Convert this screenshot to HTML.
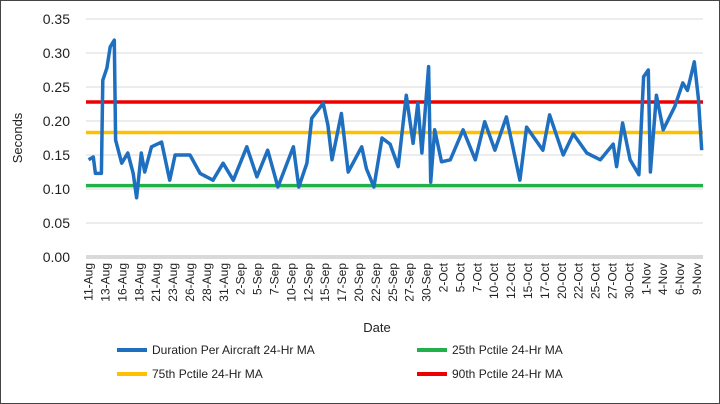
<!DOCTYPE html>
<html><head><meta charset="utf-8"><style>
body{margin:0;background:#fff}
svg{display:block;font-family:"Liberation Sans",sans-serif}
</style></head><body>
<svg id="chart" width="720" height="404" viewBox="0 0 720 404">
<rect x="0.5" y="0.5" width="719" height="403" fill="#fff" stroke="#444"/>
<g id="grid"></g><g id="yt"></g><g id="xt"></g><g id="ref"></g><g id="series"></g>
<text x="377" y="332" font-size="13" fill="#222" text-anchor="middle">Date</text>
<text transform="translate(22,138) rotate(-90)" font-size="13" fill="#222" text-anchor="middle">Seconds</text>
<g font-size="12" fill="#222">
<g><line x1="117" y1="350" x2="147" y2="350" stroke="#1f6fc0" stroke-width="4"/><text x="152" y="354">Duration Per Aircraft 24-Hr MA</text></g>
<g><line x1="417" y1="350" x2="447" y2="350" stroke="#22b04a" stroke-width="4"/><text x="452" y="354">25th Pctile 24-Hr MA</text></g>
<g><line x1="117" y1="374" x2="147" y2="374" stroke="#ffc000" stroke-width="4"/><text x="152" y="378">75th Pctile 24-Hr MA</text></g>
<g><line x1="417" y1="374" x2="447" y2="374" stroke="#ee0000" stroke-width="4"/><text x="452" y="378">90th Pctile 24-Hr MA</text></g>
</g>
</svg>
<script>
const xLabels=["11-Aug","13-Aug","16-Aug","18-Aug","21-Aug","23-Aug","26-Aug","28-Aug","31-Aug","2-Sep","5-Sep","7-Sep","10-Sep","12-Sep","15-Sep","17-Sep","20-Sep","22-Sep","25-Sep","27-Sep","30-Sep","2-Oct","5-Oct","7-Oct","10-Oct","12-Oct","15-Oct","17-Oct","20-Oct","22-Oct","25-Oct","27-Oct","30-Oct","1-Nov","4-Nov","6-Nov","9-Nov"];
const yTicks=[0,0.05,0.10,0.15,0.20,0.25,0.30,0.35];
const days=[0,0.7,1,1.9,2.1,2.7,3.2,3.8,4.0,4.9,5.8,6.6,7.1,7.8,8.3,9.3,10.8,12.0,12.8,15,16.5,18.4,19.9,21.4,23.4,24.9,26.5,28,30.3,31.1,32.3,33,34.7,35.4,36,37.4,38.4,40.4,41.1,42.2,43.4,44.6,45.8,47,48,48.7,49.3,50.3,50.6,51.2,52.2,53.5,55.4,57.2,58.6,60.1,61.8,63.8,64.8,67.2,68.2,70.2,71.7,73.7,75.7,77.6,78.1,79,80.1,81.4,82.1,82.8,83.1,84,85,86.7,87.9,88.6,89.6,90.2,90.7];
const values=[0.143,0.147,0.123,0.123,0.26,0.278,0.309,0.319,0.172,0.138,0.153,0.123,0.087,0.153,0.125,0.162,0.169,0.113,0.15,0.15,0.123,0.113,0.138,0.113,0.162,0.118,0.157,0.103,0.162,0.103,0.138,0.204,0.226,0.194,0.143,0.211,0.125,0.162,0.13,0.103,0.175,0.166,0.133,0.238,0.167,0.226,0.153,0.28,0.11,0.187,0.14,0.143,0.187,0.143,0.199,0.157,0.206,0.113,0.191,0.157,0.209,0.15,0.181,0.153,0.143,0.166,0.133,0.197,0.143,0.121,0.265,0.275,0.125,0.238,0.187,0.221,0.256,0.245,0.287,0.233,0.157];
const refNames=["25th","75th","90th"];
const refValues=[0.105,0.183,0.228];
const refColors=["#22b04a","#ffc000","#ee0000"];
const NS="http://www.w3.org/2000/svg";
const X0=86,X1=703,Y0=257;
const x=d=>88.6+d*6.76;
const y=v=>Y0-v*680;
function mk(t,a,p){const e=document.createElementNS(NS,t);for(const k in a)e.setAttribute(k,a[k]);p.appendChild(e);return e;}
const grid=document.getElementById('grid'),yt=document.getElementById('yt'),xt=document.getElementById('xt');
yTicks.forEach(v=>{
 const l=mk('line',{x1:X0,x2:X1,y1:y(v),y2:y(v),stroke:v===0?'#d9d9d9':'#d9d9d9','stroke-width':v===0?4:1},grid);
 
 
 const t=mk('text',{x:70,y:y(v)+5,'font-size':14,fill:'#222','text-anchor':'end'},yt);
 t.textContent=v.toFixed(2);
 
 
});
const step=90/(xLabels.length-1);
xLabels.forEach((s,i)=>{
 const cx=x(i*step);
 const t=mk('text',{transform:`translate(${cx+4},263) rotate(-90)`,'font-size':12,fill:'#222','text-anchor':'end'},xt);
 t.textContent=s;
 
 
});
const ref=document.getElementById('ref');
refValues.forEach((v,i)=>{
 const l=mk('line',{x1:X0,x2:X1,y1:y(v),y2:y(v),stroke:refColors[i],'stroke-width':3.5},ref);
 
 
});
const p=mk('polyline',{points:days.map((d,i)=>x(d).toFixed(1)+','+y(values[i]).toFixed(1)).join(' '),fill:'none',stroke:'#1f6fc0','stroke-width':3.5,'stroke-linejoin':'round'},document.getElementById('series'));


</script>
</body></html>
